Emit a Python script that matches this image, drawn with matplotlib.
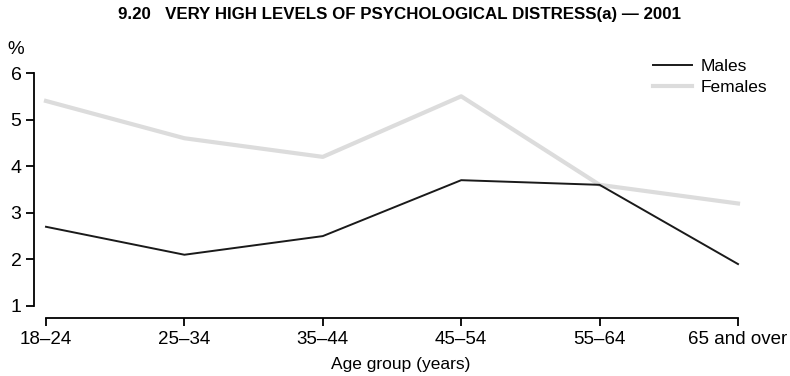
import matplotlib as mpl
import matplotlib.pyplot as plt
import numpy as np

mpl.rcParams["font.family"] = ["Liberation Sans", "DejaVu Sans"]

age_groups = ["18–24", "25–34", "35–44", "45–54", "55–64", "65 and over"]
males = [2.7, 2.1, 2.5, 3.7, 3.6, 1.9]
females = [5.4, 4.6, 4.2, 5.5, 3.6, 3.2]

TITLE = "9.20   VERY HIGH LEVELS OF PSYCHOLOGICAL DISTRESS(a) — 2001"
TICK_FONT_SIZE = 13.5

fig = plt.figure(figsize=(7.9, 3.76), dpi=100)
# axes box in pixels: left 34, right 770, bottom 318, top 60
ax = fig.add_axes([34 / 790, (376 - 318) / 376, (770 - 34) / 790, (318 - 60) / 376])

x = np.arange(len(age_groups))
ax.plot(x, females, color="#dcdcdc", linewidth=3.0, label="Females", zorder=2)
ax.plot(x, males, color="#1a1a1a", linewidth=1.4, label="Males", zorder=3)

step = 138.4
ax.set_xlim(-12 / step, 5 + 32 / step)
ax.set_ylim(1 - 12 / 46.6, 6 + 13 / 46.6)

for s in ["top", "right"]:
    ax.spines[s].set_visible(False)
ax.spines["left"].set_bounds(1, 6)
ax.spines["bottom"].set_bounds(0, 5)
ax.spines["left"].set_linewidth(1.3)
ax.spines["bottom"].set_linewidth(1.3)

ax.set_yticks([1, 2, 3, 4, 5, 6])
ax.set_xticks(x)
ax.set_xticklabels(age_groups)
ax.tick_params(axis="y", direction="out", length=6, width=1.3, labelsize=TICK_FONT_SIZE + 0.5, pad=3)
ax.tick_params(axis="x", direction="out", length=6, width=1.3, labelsize=TICK_FONT_SIZE, pad=3)

fig.text(16 / 790, 1 - 49 / 376, "%", fontsize=TICK_FONT_SIZE, ha="center", va="center")
fig.text(401 / 790, 1 - 364 / 376, "Age group (years)", fontsize=12.5, ha="center", va="center")
fig.text(400 / 790, 1 - 15 / 376, TITLE, fontsize=12.2, fontweight="bold",
         ha="center", va="center")

handles, labels = ax.get_legend_handles_labels()
ax.legend(handles[::-1], labels[::-1], loc="upper right", bbox_to_anchor=(1.017, 1.065),
          frameon=False, fontsize=12.5, handlelength=2.2, handletextpad=0.5,
          labelspacing=0.35)

plt.savefig("out.png", dpi=100)
